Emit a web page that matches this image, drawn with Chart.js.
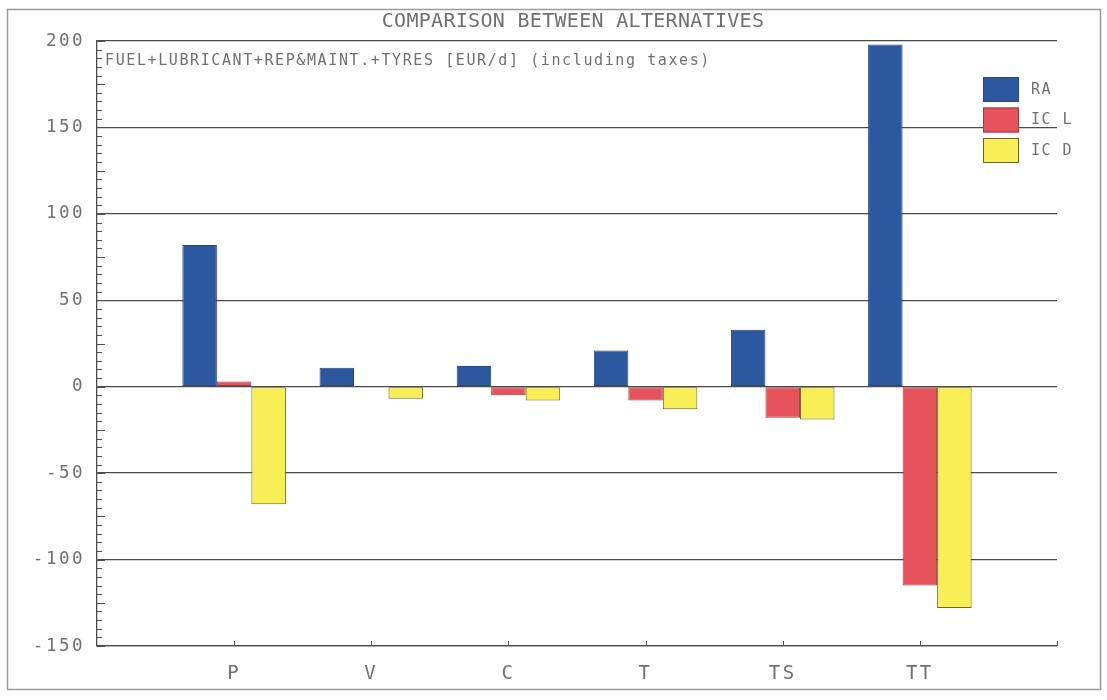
<!DOCTYPE html>
<html><head><meta charset="utf-8">
<script src="https://cdn.jsdelivr.net/npm/chart.js@4/dist/chart.umd.min.js"></script>
<style>html,body{margin:0;padding:0;background:#fff;}canvas{display:block}</style>
</head><body>
<canvas id="c" width="1107" height="700"></canvas>
<script>
const categories = ['P', 'V', 'C', 'T', 'TS', 'TT'];
const seriesRA  = [82, 11, 12, 21, 33, 198];
const seriesICL = [3, 0, -5, -8, -18, -115];
const seriesICD = [-68, -7, -8, -13, -19, -128];
const seriesNames = ['RA', 'IC L', 'IC D'];
const yTicks = [-150, -100, -50, 0, 50, 100, 150, 200];
const titleText = 'COMPARISON BETWEEN ALTERNATIVES';
const noteText = 'FUEL+LUBRICANT+REP&MAINT.+TYRES [EUR/d] (including taxes)';

const FONT = "'DejaVu Sans Mono', 'Liberation Mono', monospace";
const TXT = '#707070';
const GRID = '#4a4a4a';

// pad the category axis with an empty slot on each side (as in the original plot)
const labels = [''].concat(categories, ['']);
const pad = arr => [null].concat(arr, [null]);

const fills = ['#2b589f', '#e6535c', '#f8ee56'];
const borders = ['#24488a', '#9c3a40', '#6b6628'];
const seriesData = [seriesRA, seriesICL, seriesICD];

const datasets = seriesData.map((d, i) => ({
  label: seriesNames[i],
  data: pad(d),
  backgroundColor: fills[i],
  borderColor: borders[i],
  borderWidth: 1,
  borderSkipped: false,
  categoryPercentage: 0.755,
  barPercentage: 1.0
}));

const decor = {
  id: 'decor',
  beforeDraw(chart) {
    const ctx = chart.ctx;
    ctx.save();
    ctx.fillStyle = '#fff';
    ctx.fillRect(0, 0, chart.width, chart.height);
    ctx.strokeStyle = '#9a9a9a';
    ctx.lineWidth = 1.5;
    ctx.strokeRect(7.5, 9.5, 1093, 680);
    ctx.restore();
    ctx.letterSpacing = '2.5px';
  },
  afterDraw(chart) {
    const ctx = chart.ctx;
    const a = chart.chartArea;
    const ys = chart.scales.y, xs = chart.scales.x;
    ctx.save();
    ctx.strokeStyle = '#555';
    ctx.lineWidth = 1;
    // minor ticks on y axis (inside)
    for (let v = ys.min; v <= ys.max; v += 5) {
      const y = Math.round(ys.getPixelForValue(v)) + 0.5;
      const len = (v % 25 === 0) ? 8 : 5;
      ctx.beginPath(); ctx.moveTo(a.left, y); ctx.lineTo(a.left + len, y); ctx.stroke();
    }
    // category ticks on x axis (inside, pointing up)
    for (let i = 1; i < labels.length; i++) {
      const x = Math.round(xs.getPixelForValue(i)) + 0.5;
      ctx.beginPath(); ctx.moveTo(x, a.bottom); ctx.lineTo(x, a.bottom - 5); ctx.stroke();
    }
    // title
    ctx.fillStyle = TXT;
    ctx.letterSpacing = '0.3px';
    ctx.font = '20px ' + FONT;
    ctx.textAlign = 'center';
    ctx.textBaseline = 'middle';
    ctx.fillText(titleText, 573, 22);
    // note inside plot
    ctx.letterSpacing = '1.6px';
    ctx.font = '15px ' + FONT;
    ctx.textAlign = 'left';
    ctx.fillText(noteText, a.left + 8, 61);
    // legend
    chart.data.datasets.forEach((ds, i) => {
      const bx = 983, by = 77 + i * 30.5;
      ctx.fillStyle = ds.backgroundColor;
      ctx.fillRect(bx, by, 36, 25);
      ctx.strokeStyle = ds.borderColor;
      ctx.lineWidth = 1;
      ctx.strokeRect(bx + 0.5, by + 0.5, 35, 24);
      ctx.fillStyle = TXT;
      ctx.letterSpacing = '1.5px';
      ctx.font = '15px ' + FONT;
      ctx.textAlign = 'left';
      ctx.textBaseline = 'middle';
      ctx.fillText(ds.label, 1031, by + 13);
    });
    ctx.restore();
  }
};

new Chart(document.getElementById('c'), {
  type: 'bar',
  data: { labels: labels, datasets: datasets },
  options: {
    responsive: false,
    animation: false,
    devicePixelRatio: 1,
    layout: { padding: { top: 41, right: 50, bottom: 0, left: 0 } },
    plugins: { legend: { display: false }, title: { display: false }, tooltip: { enabled: false } },
    scales: {
      x: {
        offset: false,
        grid: { display: false, offset: false },
        border: { display: true, color: GRID, width: 1.3 },
        ticks: { color: TXT, font: { family: FONT, size: 19 }, padding: 9, maxRotation: 0, autoSkip: false },
        afterFit(s) { s.height = 54; }
      },
      y: {
        min: -150, max: 200,
        afterBuildTicks(s) { s.ticks = yTicks.map(v => ({ value: v })); },
        grid: { color: GRID, lineWidth: 1.3, drawTicks: false },
        border: { display: true, color: GRID, width: 1.3 },
        ticks: { color: TXT, font: { family: FONT, size: 17.5 }, padding: 12 },
        afterFit(s) { s.width = 97; }
      }
    }
  },
  plugins: [decor]
});
</script>
</body></html>
